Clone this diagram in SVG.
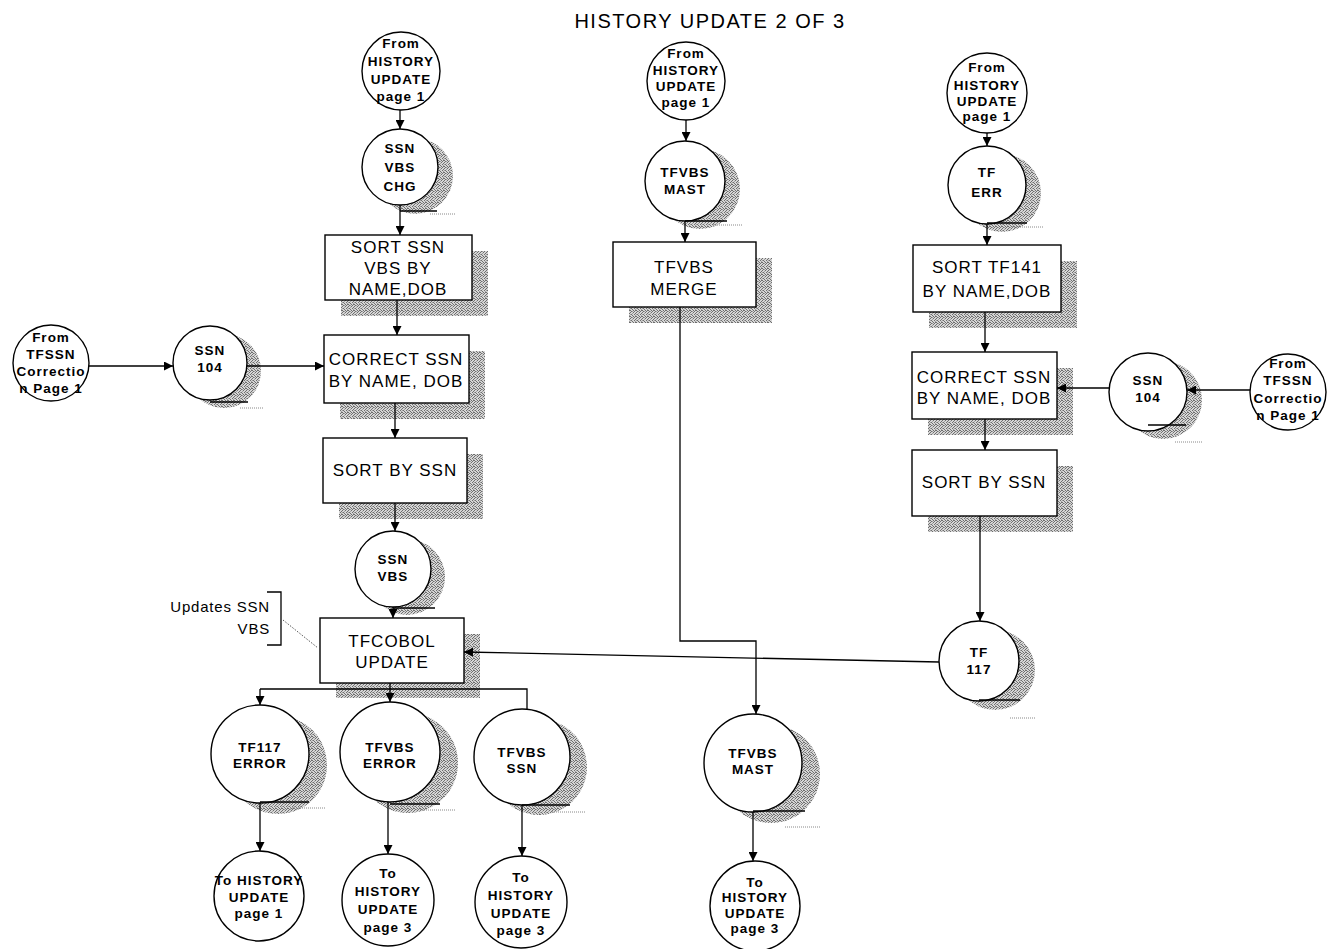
<svg xmlns="http://www.w3.org/2000/svg" width="1331" height="949" viewBox="0 0 1331 949">
<defs>
  <pattern id="stipple" width="6" height="6" patternUnits="userSpaceOnUse">
    <rect width="6" height="6" fill="#d6d6d6"/>
    <g fill="#6e6e6e">
      <rect x="0" y="0" width="1" height="1"/>
      <rect x="3" y="0" width="1" height="1"/>
      <rect x="5" y="1" width="1" height="1"/>
      <rect x="1" y="2" width="1" height="1"/>
      <rect x="4" y="2" width="1" height="1"/>
      <rect x="2" y="3" width="1" height="1"/>
      <rect x="0" y="4" width="1" height="1"/>
      <rect x="3" y="4" width="1" height="1"/>
      <rect x="5" y="4" width="1" height="1"/>
      <rect x="1" y="5" width="1" height="1"/>
      <rect x="4" y="5" width="1" height="1"/>
    </g>
    <g fill="#a0a0a0">
      <rect x="2" y="1" width="1" height="1"/>
      <rect x="0" y="2" width="1" height="1"/>
      <rect x="5" y="3" width="1" height="1"/>
      <rect x="2" y="5" width="1" height="1"/>
    </g>
  </pattern>
  <marker id="arr" viewBox="0 0 10 10" refX="10" refY="5" markerWidth="10" markerHeight="9" markerUnits="userSpaceOnUse" orient="auto">
    <path d="M0,0 L10,5 L0,10 z" fill="#000"/>
  </marker>
</defs>
<style>
  text { font-family: "Liberation Sans", Arial, sans-serif; fill: #000; text-anchor: middle; }
  .ct { font-size: 13.5px; font-weight: bold; letter-spacing: 1px; }
  .bt { font-size: 17px; letter-spacing: 1px; }
  .title { font-size: 20px; letter-spacing: 1.5px; }
  .note { font-size: 15px; letter-spacing: 0.8px; text-anchor: end; }
  .node { fill: #fff; stroke: #000; stroke-width: 1.4; }
  .shade { fill: url(#stipple); stroke: none; }
  .base { stroke: #000; stroke-width: 1.4; }
  .dots { stroke: #888; stroke-width: 1; stroke-dasharray: 1 1; }
  .wire { fill: none; stroke: #000; stroke-width: 1.3; }
  .arrow { fill: none; stroke: #000; stroke-width: 1.3; marker-end: url(#arr); }
</style>
<rect width="1331" height="949" fill="#fff"/>

<text class="title" x="710" y="28">HISTORY UPDATE 2 OF 3</text>

<!-- left column -->
<g id="from-hist-left">
  <circle class="node" cx="401" cy="71" r="39"/>
  <text class="ct" x="401" y="48">From</text>
  <text class="ct" x="401" y="66">HISTORY</text>
  <text class="ct" x="401" y="84">UPDATE</text>
  <text class="ct" x="401" y="101">page 1</text>
</g>
<g id="ssn-vbs-chg">
  <circle class="shade" cx="415" cy="176" r="38"/>
  <circle class="node" cx="400" cy="167" r="38"/>
  <line class="base" x1="400" y1="211" x2="437" y2="211"/>
  <line class="dots" x1="430" y1="214" x2="455" y2="214"/>
  <text class="ct" x="400" y="153">SSN</text>
  <text class="ct" x="400" y="172">VBS</text>
  <text class="ct" x="400" y="191">CHG</text>
</g>
<g id="sort-ssn-vbs">
  <rect class="shade" x="341" y="251" width="147" height="65"/>
  <rect class="node" x="325" y="235" width="147" height="65"/>
  <text class="bt" x="398" y="253">SORT SSN</text>
  <text class="bt" x="398" y="274">VBS BY</text>
  <text class="bt" x="398" y="295">NAME,DOB</text>
</g>
<g id="from-tfssn-left">
  <circle class="node" cx="51" cy="363" r="38"/>
  <text class="ct" x="51" y="342">From</text>
  <text class="ct" x="51" y="359">TFSSN</text>
  <text class="ct" x="51" y="376">Correctio</text>
  <text class="ct" x="51" y="393">n Page 1</text>
</g>
<g id="ssn104-left">
  <circle class="shade" cx="224" cy="371" r="37"/>
  <circle class="node" cx="210" cy="363" r="37"/>
  <line class="base" x1="210" y1="402" x2="248" y2="402"/>
  <line class="dots" x1="240" y1="408" x2="264" y2="408"/>
  <text class="ct" x="210" y="355">SSN</text>
  <text class="ct" x="210" y="372">104</text>
</g>
<g id="correct-ssn-left">
  <rect class="shade" x="340" y="351" width="145" height="68"/>
  <rect class="node" x="324" y="335" width="145" height="68"/>
  <text class="bt" x="396" y="365">CORRECT SSN</text>
  <text class="bt" x="396" y="387">BY NAME, DOB</text>
</g>
<g id="sort-ssn-left">
  <rect class="shade" x="339" y="454" width="144" height="65"/>
  <rect class="node" x="323" y="438" width="144" height="65"/>
  <text class="bt" x="395" y="476">SORT BY SSN</text>
</g>
<g id="ssn-vbs">
  <circle class="shade" cx="407" cy="577" r="38"/>
  <circle class="node" cx="393" cy="569" r="38"/>
  <line class="base" x1="393" y1="608" x2="435" y2="608"/>
  <text class="ct" x="393" y="564">SSN</text>
  <text class="ct" x="393" y="581">VBS</text>
</g>
<g id="tfcobol-update">
  <rect class="shade" x="336" y="634" width="144" height="64"/>
  <rect class="node" x="320" y="618" width="144" height="65"/>
  <text class="bt" x="392" y="647">TFCOBOL</text>
  <text class="bt" x="392" y="668">UPDATE</text>
</g>
<g id="note-updates">
  <text class="note" x="270" y="612">Updates SSN</text>
  <text class="note" x="270" y="634">VBS</text>
  <path class="wire" d="M267,592 H281 V645 H267"/>
  <line x1="283" y1="620" x2="318" y2="648" stroke="#555" stroke-width="1" stroke-dasharray="1.5 1.5"/>
</g>

<!-- outputs of the update -->
<g id="tf117-error">
  <circle class="shade" cx="278" cy="765" r="49"/>
  <circle class="node" cx="260" cy="754" r="49"/>
  <line class="base" x1="260" y1="802" x2="309" y2="802"/>
  <line class="dots" x1="290" y1="808" x2="326" y2="808"/>
  <text class="ct" x="260" y="752">TF117</text>
  <text class="ct" x="260" y="768">ERROR</text>
</g>
<g id="tfvbs-error">
  <circle class="shade" cx="408" cy="763" r="50"/>
  <circle class="node" cx="390" cy="752" r="50"/>
  <line class="base" x1="390" y1="804" x2="440" y2="804"/>
  <line class="dots" x1="420" y1="810" x2="455" y2="810"/>
  <text class="ct" x="390" y="752">TFVBS</text>
  <text class="ct" x="390" y="768">ERROR</text>
</g>
<g id="tfvbs-ssn">
  <circle class="shade" cx="539" cy="767" r="48"/>
  <circle class="node" cx="522" cy="757" r="48"/>
  <line class="base" x1="522" y1="805" x2="570" y2="805"/>
  <line class="dots" x1="552" y1="812" x2="585" y2="812"/>
  <text class="ct" x="522" y="757">TFVBS</text>
  <text class="ct" x="522" y="773">SSN</text>
</g>
<g id="to-hist-p1">
  <circle class="node" cx="259" cy="896" r="45"/>
  <text class="ct" x="259" y="885">To HISTORY</text>
  <text class="ct" x="259" y="902">UPDATE</text>
  <text class="ct" x="259" y="918">page 1</text>
</g>
<g id="to-hist-p3-a">
  <circle class="node" cx="388" cy="900" r="46"/>
  <text class="ct" x="388" y="878">To</text>
  <text class="ct" x="388" y="896">HISTORY</text>
  <text class="ct" x="388" y="914">UPDATE</text>
  <text class="ct" x="388" y="932">page 3</text>
</g>
<g id="to-hist-p3-b">
  <circle class="node" cx="521" cy="902" r="46"/>
  <text class="ct" x="521" y="882">To</text>
  <text class="ct" x="521" y="900">HISTORY</text>
  <text class="ct" x="521" y="918">UPDATE</text>
  <text class="ct" x="521" y="935">page 3</text>
</g>

<!-- middle column -->
<g id="from-hist-mid">
  <circle class="node" cx="686" cy="81" r="39"/>
  <text class="ct" x="686" y="58">From</text>
  <text class="ct" x="686" y="75">HISTORY</text>
  <text class="ct" x="686" y="91">UPDATE</text>
  <text class="ct" x="686" y="107">page 1</text>
</g>
<g id="tfvbs-mast-top">
  <circle class="shade" cx="700" cy="189" r="40"/>
  <circle class="node" cx="685" cy="181" r="40"/>
  <line class="base" x1="685" y1="221" x2="727" y2="221"/>
  <line class="dots" x1="713" y1="225" x2="742" y2="225"/>
  <text class="ct" x="685" y="177">TFVBS</text>
  <text class="ct" x="685" y="194">MAST</text>
</g>
<g id="tfvbs-merge">
  <rect class="shade" x="629" y="258" width="143" height="65"/>
  <rect class="node" x="613" y="242" width="143" height="65"/>
  <text class="bt" x="684" y="273">TFVBS</text>
  <text class="bt" x="684" y="295">MERGE</text>
</g>
<g id="tfvbs-mast-bot">
  <circle class="shade" cx="771" cy="774" r="49"/>
  <circle class="node" cx="753" cy="763" r="49"/>
  <line class="base" x1="753" y1="811" x2="805" y2="811"/>
  <line class="dots" x1="785" y1="827" x2="820" y2="827"/>
  <text class="ct" x="753" y="758">TFVBS</text>
  <text class="ct" x="753" y="774">MAST</text>
</g>
<g id="to-hist-p3-c">
  <circle class="node" cx="755" cy="906" r="45"/>
  <text class="ct" x="755" y="887">To</text>
  <text class="ct" x="755" y="902">HISTORY</text>
  <text class="ct" x="755" y="918">UPDATE</text>
  <text class="ct" x="755" y="933">page 3</text>
</g>

<!-- right column -->
<g id="from-hist-right">
  <circle class="node" cx="987" cy="93" r="40"/>
  <text class="ct" x="987" y="72">From</text>
  <text class="ct" x="987" y="90">HISTORY</text>
  <text class="ct" x="987" y="106">UPDATE</text>
  <text class="ct" x="987" y="121">page 1</text>
</g>
<g id="tf-err">
  <circle class="shade" cx="1002" cy="193" r="39"/>
  <circle class="node" cx="987" cy="185" r="39"/>
  <line class="base" x1="987" y1="223" x2="1027" y2="223"/>
  <line class="dots" x1="1012" y1="227" x2="1043" y2="227"/>
  <text class="ct" x="987" y="177">TF</text>
  <text class="ct" x="987" y="197">ERR</text>
</g>
<g id="sort-tf141">
  <rect class="shade" x="929" y="261" width="148" height="67"/>
  <rect class="node" x="913" y="245" width="148" height="67"/>
  <text class="bt" x="987" y="273">SORT TF141</text>
  <text class="bt" x="987" y="297">BY NAME,DOB</text>
</g>
<g id="correct-ssn-right">
  <rect class="shade" x="928" y="368" width="145" height="67"/>
  <rect class="node" x="912" y="352" width="145" height="67"/>
  <text class="bt" x="984" y="383">CORRECT SSN</text>
  <text class="bt" x="984" y="404">BY NAME, DOB</text>
</g>
<g id="sort-ssn-right">
  <rect class="shade" x="928" y="466" width="145" height="66"/>
  <rect class="node" x="912" y="450" width="145" height="66"/>
  <text class="bt" x="984" y="488">SORT BY SSN</text>
</g>
<g id="ssn104-right">
  <circle class="shade" cx="1163" cy="400" r="39"/>
  <circle class="node" cx="1148" cy="392" r="39"/>
  <line class="base" x1="1148" y1="425" x2="1186" y2="425"/>
  <line class="dots" x1="1175" y1="442" x2="1202" y2="442"/>
  <text class="ct" x="1148" y="385">SSN</text>
  <text class="ct" x="1148" y="402">104</text>
</g>
<g id="from-tfssn-right">
  <circle class="node" cx="1288" cy="392" r="38"/>
  <text class="ct" x="1288" y="368">From</text>
  <text class="ct" x="1288" y="385">TFSSN</text>
  <text class="ct" x="1288" y="403">Correctio</text>
  <text class="ct" x="1288" y="420">n Page 1</text>
</g>
<g id="tf117">
  <circle class="shade" cx="995" cy="670" r="40"/>
  <circle class="node" cx="979" cy="661" r="40"/>
  <line class="base" x1="979" y1="700" x2="1020" y2="700"/>
  <line class="dots" x1="1010" y1="718" x2="1035" y2="718"/>
  <text class="ct" x="979" y="657">TF</text>
  <text class="ct" x="979" y="674">117</text>
</g>

<!-- connectors -->
<g id="connectors">
  <line class="arrow" x1="400" y1="110" x2="400" y2="129"/>
  <line class="arrow" x1="400" y1="205" x2="400" y2="235"/>
  <line class="arrow" x1="397" y1="300" x2="397" y2="335"/>
  <line class="arrow" x1="89" y1="366" x2="173" y2="366"/>
  <line class="arrow" x1="247" y1="366" x2="324" y2="366"/>
  <line class="arrow" x1="395" y1="403" x2="395" y2="438"/>
  <line class="arrow" x1="395" y1="503" x2="395" y2="531"/>
  <line class="arrow" x1="393" y1="607" x2="393" y2="618"/>
  <line class="arrow" x1="939" y1="662" x2="464" y2="652"/>
  <line class="arrow" x1="390" y1="683" x2="390" y2="702"/>
  <path class="wire" d="M527,709 V689 H260"/>
  <line class="arrow" x1="260" y1="689" x2="260" y2="705"/>
  <line class="arrow" x1="260" y1="803" x2="260" y2="851"/>
  <line class="arrow" x1="388" y1="802" x2="388" y2="854"/>
  <line class="arrow" x1="522" y1="805" x2="522" y2="856"/>
  <line class="arrow" x1="686" y1="120" x2="686" y2="141"/>
  <line class="arrow" x1="685" y1="221" x2="685" y2="242"/>
  <path class="arrow" d="M680,307 V641 H756 V714"/>
  <line class="arrow" x1="753" y1="812" x2="753" y2="861"/>
  <line class="arrow" x1="987" y1="133" x2="987" y2="146"/>
  <line class="arrow" x1="987" y1="224" x2="987" y2="245"/>
  <line class="arrow" x1="985" y1="312" x2="985" y2="352"/>
  <line class="arrow" x1="985" y1="419" x2="985" y2="450"/>
  <line class="arrow" x1="1109" y1="388" x2="1057" y2="388"/>
  <line class="arrow" x1="1250" y1="390" x2="1187" y2="390"/>
  <line class="arrow" x1="980" y1="516" x2="980" y2="621"/>
</g>
</svg>
